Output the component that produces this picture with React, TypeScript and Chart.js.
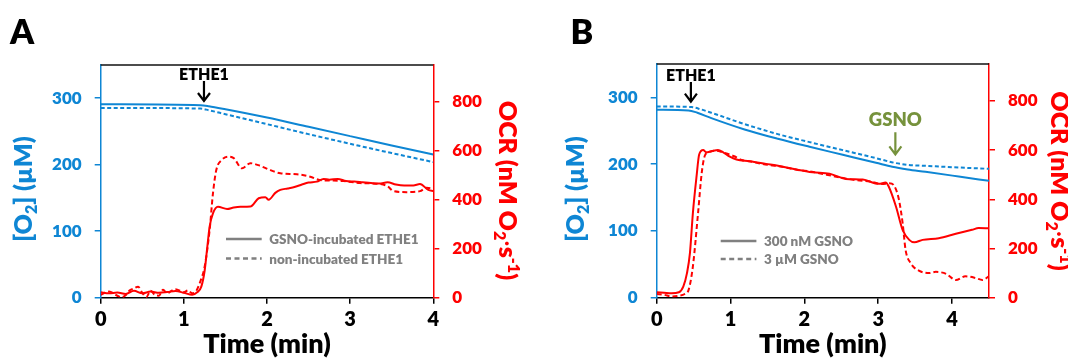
import React, { useEffect, useRef } from 'react';
import { Chart, registerables } from 'chart.js';

Chart.register(...registerables);

const FONT = 'Lato, "Open Sans", "DejaVu Sans", sans-serif';
const WEIGHT = '800';
const BLUE = '#0E86D4';
const RED = '#FF0000';
const OLIVE = '#76923C';
const GRAY = '#808080';

// ---------- Panel A ----------
// O2 (µM), left axis
const A_O2_GSNO_T = [0, 1.2, 1.3, 1.5, 2, 2.5, 3, 3.5, 4];
const A_O2_GSNO_V = [291, 289.5, 288, 283.5, 271, 257, 243, 229, 215.5];
const A_O2_NONINC_T = [0, 1.2, 1.3, 1.5, 2, 2.5, 3, 3.5, 4];
const A_O2_NONINC_V = [285.5, 284.5, 282, 276, 261, 246, 231.5, 217.5, 204];
// OCR (nM O2/s), right axis
const A_OCR_GSNO_T = [0, 0.1, 0.2, 0.3, 0.4, 0.5, 0.6, 0.7, 0.8, 0.9, 1.0, 1.1, 1.16, 1.21, 1.25, 1.28, 1.31, 1.35, 1.41, 1.52, 1.6, 1.68, 1.8, 1.9, 1.98, 2.02, 2.1, 2.16, 2.25, 2.34, 2.42, 2.5, 2.6, 2.68, 2.75, 2.85, 2.95, 3.05, 3.15, 3.25, 3.35, 3.45, 3.55, 3.65, 3.76, 3.84, 3.94, 4.0];
const A_OCR_GSNO_V = [22, 18, 21, 15, 28, 18, 25, 20, 23, 27, 20, 12, 22, 45, 110, 200, 290, 344, 371, 362, 368, 371, 372, 406, 410, 400, 428, 440, 446, 453, 462, 470, 474, 485, 482, 485, 476, 474, 471, 468, 466, 471, 462, 458, 458, 464, 440, 436];
const A_OCR_NONINC_T = [0, 0.05, 0.1, 0.2, 0.25, 0.3, 0.35, 0.4, 0.45, 0.5, 0.55, 0.6, 0.65, 0.7, 0.75, 0.8, 0.85, 0.9, 1.0, 1.05, 1.1, 1.15, 1.19, 1.25, 1.31, 1.35, 1.39, 1.455, 1.535, 1.6, 1.7, 1.8, 1.92, 2.04, 2.16, 2.36, 2.52, 2.64, 2.8, 2.92, 3.12, 3.36, 3.45, 3.52, 3.68, 3.84, 3.92, 4.0];
const A_OCR_NONINC_V = [12, 20, 25, 8, 2, 10, 30, 38, 45, 20, 3, 28, 12, 8, 32, 18, 28, 35, 22, 30, 18, 28, 59, 127, 276, 426, 521, 562, 576, 570, 528, 549, 538, 521, 508, 504, 494, 480, 478, 476, 468, 464, 455, 435, 431, 435, 449, 445];

// ---------- Panel B ----------
const B_O2_300NM_T = [0, 0.43, 0.55, 0.74, 1.19, 1.64, 2.07, 2.52, 2.97, 3.19, 3.4, 3.64, 4.09, 4.5];
const B_O2_300NM_V = [281.5, 280.5, 277, 269, 252, 238, 226, 214, 202, 196, 192, 188.5, 181.5, 175];
const B_O2_3UM_T = [0, 0.47, 0.6, 0.74, 1.19, 1.64, 2.07, 2.52, 2.97, 3.22, 3.4, 3.64, 4.09, 4.5];
const B_O2_3UM_V = [286.5, 285.5, 282, 277, 260, 245, 233, 221, 209, 202, 199, 197.5, 195, 193];
const B_OCR_300NM_T = [0, 0.1, 0.2, 0.3, 0.36, 0.41, 0.45, 0.49, 0.54, 0.575, 0.63, 0.67, 0.74, 0.83, 0.9, 0.99, 1.08, 1.26, 1.48, 1.66, 1.89, 2.11, 2.34, 2.56, 2.79, 3.01, 3.10, 3.14, 3.24, 3.33, 3.42, 3.49, 3.6, 3.82, 4.05, 4.27, 4.36, 4.5];
const B_OCR_300NM_V = [22, 20, 18, 22, 45, 100, 181, 344, 494, 582, 600, 591, 595, 600, 591, 573, 562, 555, 544, 535, 521, 510, 504, 483, 480, 463, 468, 453, 371, 276, 235, 225, 235, 242, 260, 276, 283, 282];
const B_OCR_3UM_T = [0, 0.1, 0.2, 0.3, 0.38, 0.43, 0.49, 0.56, 0.61, 0.65, 0.7, 0.8, 0.9, 1.05, 1.15, 1.3, 1.5, 1.7, 1.9, 2.1, 2.3, 2.5, 2.7, 2.9, 3.05, 3.15, 3.22, 3.28, 3.33, 3.37, 3.44, 3.55, 3.69, 3.78, 3.92, 4.05, 4.18, 4.32, 4.41, 4.5];
const B_OCR_3UM_V = [15, 12, 5, 8, 15, 30, 127, 344, 508, 576, 591, 598, 590, 575, 560, 552, 540, 532, 520, 512, 500, 488, 478, 472, 462, 465, 453, 399, 304, 195, 140, 110, 100, 105, 97, 72, 87, 80, 72, 87];

// ---------- Axis ticks / labels ----------
const O2_MAX = 350;
const O2_STEP = 100;
const OCR_MAX = 950;
const OCR_STEP = 200;
const TIME_STEP = 1;
const A_TIME_MAX = 4;
const B_TIME_MAX = 4.5;
const A_LEGEND = ['GSNO-incubated ETHE1', 'non-incubated ETHE1'];
const B_LEGEND = ['300 nM GSNO', '3 µM GSNO'];

type Seg = { t: string; s?: 'sub' | 'sup'; w?: string };
const LEFT_TITLE: Seg[] = [{ t: '[O' }, { t: '2', s: 'sub' }, { t: '] (µM)' }];
const RIGHT_TITLE: Seg[] = [{ t: 'OCR (nM O' }, { t: '2', s: 'sub' }, { t: '·', w: '400' }, { t: 's' }, { t: '-1', s: 'sup' }, { t: ')' }];

function pts(t: number[], v: number[]) {
  return t.map((x, i) => ({ x, y: v[i] }));
}

function drawRich(ctx: CanvasRenderingContext2D, segs: Seg[], cx: number, cy: number, rot: number, size: number, color: string) {
  ctx.save();
  ctx.translate(cx, cy);
  ctx.rotate(rot);
  ctx.fillStyle = color;
  ctx.textBaseline = 'alphabetic';
  ctx.textAlign = 'left';
  const fontFor = (sg: Seg) => `${sg.w || WEIGHT} ${sg.s ? Math.round(size * 0.62) : size}px ${FONT}`;
  let total = 0;
  const widths = segs.map((sg) => {
    ctx.font = fontFor(sg);
    const w = ctx.measureText(sg.t).width;
    total += w;
    return w;
  });
  let x = -total / 2;
  const base = size * 0.36;
  segs.forEach((sg, i) => {
    ctx.font = fontFor(sg);
    const dy = sg.s === 'sub' ? size * 0.2 : sg.s === 'sup' ? -size * 0.36 : 0;
    ctx.fillText(sg.t, x, base + dy);
    x += widths[i];
  });
  ctx.restore();
}

function arrow(ctx: CanvasRenderingContext2D, x: number, y0: number, y1: number, color: string) {
  ctx.save();
  ctx.strokeStyle = color;
  ctx.lineWidth = 2.2;
  ctx.lineCap = 'butt';
  ctx.beginPath();
  ctx.moveTo(x, y0);
  ctx.lineTo(x, y1);
  ctx.moveTo(x - 6, y1 - 8);
  ctx.lineTo(x, y1);
  ctx.lineTo(x + 6, y1 - 8);
  ctx.stroke();
  ctx.restore();
}

type Ann = { label: string; time: number; color: string; size: number; textY: number; y0: number; y1: number };

type PanelCfg = {
  letter: string;
  letterX: number;
  top: number;
  leftW: number;
  rightW: number;
  timeMax: number;
  leftTitle: [number, number];
  rightTitle: [number, number];
  legend: string[];
  legendX: number;
  legendY: [number, number];
  anns: Ann[];
  datasets: { t: number[]; v: number[]; axis: 'yL' | 'yR'; dashed: boolean }[];
};

const PANELS: PanelCfg[] = [
  {
    letter: 'A',
    letterX: 10,
    top: 65,
    leftW: 100.7,
    rightW: 100.7,
    timeMax: A_TIME_MAX,
    leftTitle: [23, 189],
    rightTitle: [508, 190.5],
    legend: A_LEGEND,
    legendX: 226,
    legendY: [239, 258.5],
    anns: [{ label: 'ETHE1', time: 1.242, color: '#000', size: 16, textY: 80, y0: 81, y1: 101 }],
    datasets: [
      { t: A_OCR_GSNO_T, v: A_OCR_GSNO_V, axis: 'yR', dashed: false },
      { t: A_OCR_NONINC_T, v: A_OCR_NONINC_V, axis: 'yR', dashed: true },
      { t: A_O2_GSNO_T, v: A_O2_GSNO_V, axis: 'yL', dashed: false },
      { t: A_O2_NONINC_T, v: A_O2_NONINC_V, axis: 'yL', dashed: true },
    ],
  },
  {
    letter: 'B',
    letterX: 36.5,
    top: 64,
    leftW: 122.7,
    rightW: 79,
    timeMax: B_TIME_MAX,
    leftTitle: [40.5, 189],
    rightTitle: [526, 181],
    legend: B_LEGEND,
    legendX: 186.7,
    legendY: [241, 259],
    anns: [
      { label: 'ETHE1', time: 0.463, color: '#000', size: 16, textY: 81, y0: 82, y1: 101.7 },
      { label: 'GSNO', time: 3.232, color: OLIVE, size: 18.5, textY: 125.7, y0: 132.3, y1: 154.3 },
    ],
    datasets: [
      { t: B_OCR_300NM_T, v: B_OCR_300NM_V, axis: 'yR', dashed: false },
      { t: B_OCR_3UM_T, v: B_OCR_3UM_V, axis: 'yR', dashed: true },
      { t: B_O2_300NM_T, v: B_O2_300NM_V, axis: 'yL', dashed: false },
      { t: B_O2_3UM_T, v: B_O2_3UM_V, axis: 'yL', dashed: true },
    ],
  },
];

const W = 534;
const H = 361;
const PLOT_BOTTOM = 297.7;

function makeChart(canvas: HTMLCanvasElement, cfg: PanelCfg) {
  const overlay = {
    id: 'overlay' + cfg.letter,
    afterDraw(chart: any) {
      const { ctx, chartArea: ca, scales } = chart;
      ctx.save();
      // top frame
      ctx.strokeStyle = '#111';
      ctx.lineWidth = 1.5;
      ctx.beginPath();
      ctx.moveTo(ca.left, ca.top);
      ctx.lineTo(ca.right, ca.top);
      ctx.stroke();
      // panel letter
      ctx.fillStyle = '#000';
      ctx.textBaseline = 'alphabetic';
      ctx.textAlign = 'left';
      ctx.font = `${WEIGHT} 34px ${FONT}`;
      ctx.fillText(cfg.letter, cfg.letterX, 44.3);
      // x title
      ctx.textAlign = 'center';
      ctx.font = `${WEIGHT} 27px ${FONT}`;
      ctx.fillText('Time (min)', (ca.left + ca.right) / 2, 353);
      // y titles
      drawRich(ctx, LEFT_TITLE, cfg.leftTitle[0], cfg.leftTitle[1], -Math.PI / 2, 25, BLUE);
      drawRich(ctx, RIGHT_TITLE, cfg.rightTitle[0], cfg.rightTitle[1], Math.PI / 2, 25, RED);
      // annotations
      for (const a of cfg.anns) {
        const px = scales.x.getPixelForValue(a.time);
        ctx.fillStyle = a.color;
        ctx.textAlign = 'center';
        ctx.font = `${WEIGHT} ${a.size}px ${FONT}`;
        ctx.fillText(a.label, px, a.textY);
        arrow(ctx, px, a.y0, a.y1, a.color);
      }
      // legend
      ctx.font = `${WEIGHT} 13.5px ${FONT}`;
      ctx.textAlign = 'left';
      cfg.legend.forEach((lab, i) => {
        const y = cfg.legendY[i];
        ctx.strokeStyle = GRAY;
        ctx.lineWidth = 2.4;
        ctx.setLineDash(i === 1 ? [5, 3.5] : []);
        ctx.beginPath();
        ctx.moveTo(cfg.legendX, y);
        ctx.lineTo(cfg.legendX + 35.7, y);
        ctx.stroke();
        ctx.setLineDash([]);
        ctx.fillStyle = GRAY;
        ctx.fillText(lab, cfg.legendX + 43.3, y + 5);
      });
      ctx.restore();
    },
  };

  const tickFont = (size: number) => ({ family: FONT, size, weight: WEIGHT as any });

  return new Chart(canvas, {
    type: 'line',
    data: {
      datasets: cfg.datasets.map((d) => ({
        data: pts(d.t, d.v),
        yAxisID: d.axis,
        borderColor: d.axis === 'yR' ? RED : BLUE,
        borderWidth: 2,
        borderDash: d.dashed ? (d.axis === 'yR' ? [5, 3] : [4, 2.5]) : [],
        pointRadius: 0,
        fill: false,
        cubicInterpolationMode: 'monotone' as const,
      })),
    },
    options: {
      responsive: false,
      animation: false,
      events: [],
      layout: { padding: { top: cfg.top, left: 0, right: 0, bottom: 0 } },
      plugins: { legend: { display: false }, tooltip: { enabled: false }, title: { display: false } },
      scales: {
        x: {
          type: 'linear',
          min: 0,
          max: cfg.timeMax,
          ticks: { stepSize: TIME_STEP, includeBounds: false, color: '#000', font: tickFont(20), padding: 4, maxRotation: 0, autoSkip: false },
          grid: { display: true, drawOnChartArea: false, drawTicks: true, tickLength: 6, color: '#000', lineWidth: 1.5 },
          border: { display: true, color: '#000', width: 1.5 },
          afterBuildTicks: (s: any) => { s.ticks = s.ticks.filter((t: any) => Number.isInteger(t.value)); },
          afterFit: (s: any) => { s.height = H - PLOT_BOTTOM; },
        },
        yL: {
          type: 'linear',
          position: 'left',
          min: 0,
          max: O2_MAX,
          ticks: { stepSize: O2_STEP, includeBounds: false, color: BLUE, font: tickFont(17), padding: 13 },
          grid: { display: true, drawOnChartArea: false, drawTicks: true, tickLength: 6, color: BLUE, lineWidth: 1.5 },
          border: { display: true, color: BLUE, width: 1.5 },
          afterBuildTicks: (s: any) => { s.ticks = s.ticks.filter((t: any) => t.value % O2_STEP === 0); },
          afterFit: (s: any) => { s.width = cfg.leftW; },
        },
        yR: {
          type: 'linear',
          position: 'right',
          min: 0,
          max: OCR_MAX,
          ticks: { stepSize: OCR_STEP, includeBounds: false, color: RED, font: tickFont(17), padding: 13 },
          grid: { display: true, drawOnChartArea: false, drawTicks: true, tickLength: 6, color: RED, lineWidth: 1.5 },
          border: { display: true, color: RED, width: 1.5 },
          afterBuildTicks: (s: any) => { s.ticks = s.ticks.filter((t: any) => t.value % OCR_STEP === 0); },
          afterFit: (s: any) => { s.width = cfg.rightW; },
        },
      },
    } as any,
    plugins: [overlay],
  });
}

function Panel({ cfg, left }: { cfg: PanelCfg; left: number }) {
  const ref = useRef<HTMLCanvasElement | null>(null);
  useEffect(() => {
    if (!ref.current) return;
    const chart = makeChart(ref.current, cfg);
    return () => chart.destroy();
  }, [cfg]);
  return (
    <canvas
      ref={ref}
      width={W}
      height={H}
      style={{ position: 'absolute', left, top: 0, width: W, height: H, display: 'block' }}
    />
  );
}

export default function App() {
  return (
    <div style={{ position: 'fixed', left: 0, top: 0, width: 1068, height: 361, background: '#fff', overflow: 'hidden' }}>
      <Panel cfg={PANELS[0]} left={0} />
      <Panel cfg={PANELS[1]} left={534} />
    </div>
  );
}
